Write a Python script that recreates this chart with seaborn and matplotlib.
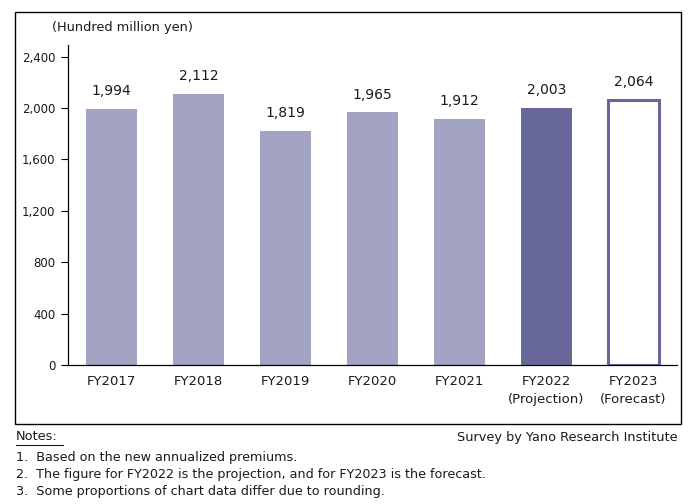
import matplotlib
matplotlib.use("Agg")
import matplotlib.pyplot as plt
import seaborn as sns
import pandas as pd
from matplotlib.patches import Rectangle

# datos del gráfico
anios = ['FY2017', 'FY2018', 'FY2019', 'FY2020', 'FY2021', 'FY2022', 'FY2023']
etiquetas = ['FY2017', 'FY2018', 'FY2019', 'FY2020', 'FY2021',
             'FY2022\n(Projection)', 'FY2023\n(Forecast)']
valores = [1994, 2112, 1819, 1965, 1912, 2003, 2064]
ticks_y = [0, 400, 800, 1200, 1600, 2000, 2400]
notas = ['1.  Based on the new annualized premiums.',
         '2.  The figure for FY2022 is the projection, and for FY2023 is the forecast.',
         '3.  Some proportions of chart data differ due to rounding.']

claro = '#A3A3C3'
oscuro = '#676799'
colores = [claro] * 5 + [oscuro, '#FFFFFF']

sns.set_theme(style="white")
plt.rcParams['font.family'] = ['DejaVu Sans']

df = pd.DataFrame({'anio': anios, 'valor': valores})

fig = plt.figure(figsize=(6.99, 5.04), dpi=100)
ax = fig.add_axes([68 / 699, 1 - 365 / 504, 609 / 699, 320 / 504])

sns.barplot(data=df, x='anio', y='valor', hue='anio', palette=colores,
            legend=False, width=0.59, ax=ax, saturation=1, linewidth=0)

# la barra del pronóstico va solo con borde
ultima = ax.patches[-1]
ultima.set_facecolor('white')
ultima.set_edgecolor(oscuro)
ultima.set_linewidth(2.2)

for i, v in enumerate(valores):
    ax.text(i, v + 85, f'{v:,}', ha='center', va='bottom', fontsize=10, color='#1a1a1a')

ax.set_ylim(0, 2490)
ax.set_xlim(-0.5, 6.5)
ax.set_yticks(ticks_y)
ax.set_yticklabels([f'{t:,}' for t in ticks_y], fontsize=8.5, color='#1a1a1a')
ax.set_xticks(range(len(anios)))
ax.set_xticklabels(etiquetas, fontsize=9.5, color='#1a1a1a', linespacing=1.5)
ax.set_xticks([i - 0.5 for i in range(len(anios) + 1)], minor=True)
ax.tick_params(axis='x', which='major', length=0, pad=7)
ax.tick_params(axis='x', which='minor', direction='in', length=4, width=0.8, color='black')
ax.tick_params(axis='y', direction='out', length=5, width=0.8, color='black', pad=4, left=True)
ax.set_xlabel('')
ax.set_ylabel('')

for lado in ['top', 'right']:
    ax.spines[lado].set_visible(False)
for lado in ['left', 'bottom']:
    ax.spines[lado].set_color('black')
    ax.spines[lado].set_linewidth(0.9)

# marco exterior
marco = Rectangle((15 / 699, 1 - 424 / 504), 666 / 699, 412.5 / 504,
                  transform=fig.transFigure, fill=False, edgecolor='black', linewidth=1.0)
fig.patches.append(marco)

fig.text(52 / 699, 1 - 28 / 504, '(Hundred million yen)', fontsize=9.3, va='center', color='#1a1a1a')

fig.text(16 / 699, 1 - 437 / 504, 'Notes:', fontsize=9.3, va='center', color='#1a1a1a')
fig.add_artist(plt.Line2D([16 / 699, 63 / 699], [1 - 444.5 / 504, 1 - 444.5 / 504],
                          transform=fig.transFigure, color='#1a1a1a', linewidth=0.8))
fig.text(678 / 699, 1 - 437 / 504, 'Survey by Yano Research Institute', fontsize=9.3,
         va='center', ha='right', color='#1a1a1a')
for k, nota in enumerate(notas):
    fig.text(16 / 699, 1 - (457 + 17.5 * k) / 504, nota, fontsize=9.2, va='center', color='#1a1a1a')

fig.savefig('out.png', dpi=100)
